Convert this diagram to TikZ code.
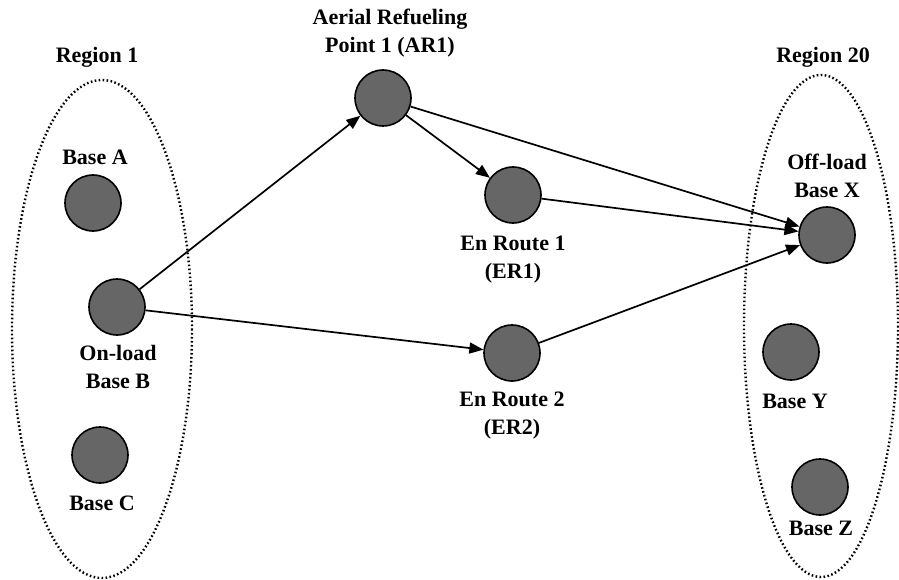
\documentclass[tikz,border=0pt]{standalone}
\usepackage{fontspec}
\setmainfont{Liberation Serif}
\usetikzlibrary{arrows.meta}
\begin{document}
\begin{tikzpicture}[x=1pt,y=-1pt,
  site/.style={circle,draw=black,line width=1.6pt,fill=black!60,minimum size=56pt,inner sep=0pt},
  lbl/.style={font=\fontsize{22}{28}\selectfont\bfseries,align=center,inner sep=0pt},
  region/.style={draw=black,line width=2.4pt,dash pattern=on 1.6pt off 2.4pt},
  link/.style={line width=1.7pt,-{Triangle[length=14pt,width=11pt]}}]
\useasboundingbox (0,0) rectangle (899,580);
% regions
\draw[region] (102,329) ellipse [x radius=90, y radius=249];
\draw[region] (821,326) ellipse [x radius=77, y radius=251];
% sites
\node[site] (A) at (93,203) {};
\node[site] (B) at (117,307) {};
\node[site] (C) at (100,455) {};
\node[site] (AR) at (383,98) {};
\node[site] (ER1) at (513,195) {};
\node[site] (ER2) at (512,353) {};
\node[site] (X) at (827,235) {};
\node[site] (Y) at (791,352) {};
\node[site] (Z) at (820,487) {};
% labels
\node[lbl] (r1) at (97,57) {Region 1};
\node[lbl] (r20) at (823,57) {Region 20};
\node[lbl] (lA) at (95,157) {Base A};
\node[lbl] (lB) at (118,367) {On-load\\Base B};
\node[lbl] (lC) at (102,503) {Base C};
\node[lbl] (lAR) at (390,33) {Aerial Refueling\\Point 1 (AR1)};
\node[lbl] (lER1) at (513,260) {En Route 1\\(ER1)};
\node[lbl] (lER2) at (512,416) {En Route 2\\(ER2)};
\node[lbl] (lX) at (827,176) {Off-load\\Base X};
\node[lbl] (lY) at (795,401) {Base Y};
\node[lbl] (lZ) at (821,528) {Base Z};
% connectors
\draw[link] (B) -- (AR);
\draw[link] (B) -- (ER2);
\draw[link] (AR) -- (ER1);
\draw[link] (AR) -- (X);
\draw[link] (ER1) -- (X);
\draw[link] (ER2) -- (X);
\end{tikzpicture}
\end{document}
